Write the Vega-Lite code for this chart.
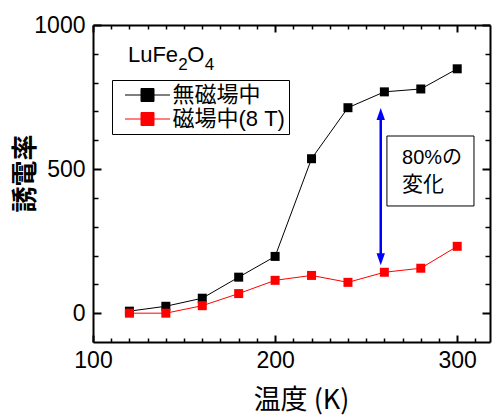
{
  "$schema": "https://vega.github.io/schema/vega-lite/v6.json",
  "width": 397,
  "height": 317,
  "autosize": {"type": "none"},
  "padding": {"left": 93, "top": 25, "right": 3, "bottom": 73},
  "config": {
    "view": {"stroke": null},
    "font": "Liberation Sans",
    "axis": {"labelFont": "Liberation Sans", "labelColor": "black", "tickColor": "black", "domainColor": "black", "grid": false, "labelFlush": false, "labelOverlap": false, "format": "d"},
    "legend": {"orient": "none", "legendX": 19, "legendY": 55, "strokeColor": "black", "fillColor": "white", "padding": 4, "symbolType": "M-3.46,0H3.46M-1,-1H1V1H-1Z", "symbolSize": 169, "symbolOffset": 20.5, "labelOffset": 14, "labelFontSize": 22, "labelFont": "Liberation Sans, Noto Sans CJK JP", "labelColor": "black", "rowPadding": 2, "symbolStrokeWidth": 1}
  },
  "data": {
    "values": [
      {"T": 120, "eps": 7, "s": "無磁場中"},
      {"T": 140, "eps": 24, "s": "無磁場中"},
      {"T": 160, "eps": 52, "s": "無磁場中"},
      {"T": 180, "eps": 125, "s": "無磁場中"},
      {"T": 200, "eps": 197, "s": "無磁場中"},
      {"T": 220, "eps": 536, "s": "無磁場中"},
      {"T": 240, "eps": 713, "s": "無磁場中"},
      {"T": 260, "eps": 768, "s": "無磁場中"},
      {"T": 280, "eps": 778, "s": "無磁場中"},
      {"T": 300, "eps": 848, "s": "無磁場中"},
      {"T": 120, "eps": 0, "s": "磁場中(8 T)"},
      {"T": 140, "eps": 0, "s": "磁場中(8 T)"},
      {"T": 160, "eps": 26, "s": "磁場中(8 T)"},
      {"T": 180, "eps": 68, "s": "磁場中(8 T)"},
      {"T": 200, "eps": 114, "s": "磁場中(8 T)"},
      {"T": 220, "eps": 131, "s": "磁場中(8 T)"},
      {"T": 240, "eps": 107, "s": "磁場中(8 T)"},
      {"T": 260, "eps": 142, "s": "磁場中(8 T)"},
      {"T": 280, "eps": 156, "s": "磁場中(8 T)"},
      {"T": 300, "eps": 232, "s": "磁場中(8 T)"}
    ]
  },
  "layer": [
    {
      "data": {"values": [{}]},
      "mark": {"type": "rect", "fill": "white", "stroke": "black", "strokeWidth": 1},
      "encoding": {
        "x": {"datum": 261.4, "type": "quantitative", "axis": null, "scale": {"domain": [100, 318], "nice": false, "zero": false}},
        "x2": {"datum": 309.2},
        "y": {"datum": 614.8, "type": "quantitative", "axis": null, "scale": {"domain": [-100, 1000], "nice": false, "zero": false}},
        "y2": {"datum": 372}
      }
    },
    {
      "data": {"values": [{}]},
      "mark": {"type": "text", "text": "80%の", "align": "left", "baseline": "middle", "fontSize": 20, "font": "Liberation Sans, Noto Sans CJK JP", "color": "black"},
      "encoding": {
        "x": {"datum": 269.7, "type": "quantitative", "axis": null},
        "y": {"datum": 537, "type": "quantitative", "axis": null}
      }
    },
    {
      "data": {"values": [{}]},
      "mark": {"type": "text", "text": "変化", "align": "left", "baseline": "middle", "fontSize": 21, "font": "Noto Sans CJK JP", "color": "black"},
      "encoding": {
        "x": {"datum": 269.7, "type": "quantitative", "axis": null},
        "y": {"datum": 445, "type": "quantitative", "axis": null}
      }
    },
    {
      "data": {"values": [{}]},
      "mark": {"type": "rule", "color": "#0000ff", "strokeWidth": 2.5},
      "encoding": {
        "x": {"datum": 258, "type": "quantitative", "axis": null},
        "y": {"datum": 190, "type": "quantitative", "axis": null},
        "y2": {"datum": 690}
      }
    },
    {
      "data": {"values": [{}]},
      "mark": {"type": "point", "shape": "M0,-1L-0.7,1L0.7,1Z", "size": 144, "filled": true, "color": "#0000ff", "opacity": 1},
      "encoding": {
        "x": {"datum": 258, "type": "quantitative", "axis": null},
        "y": {"datum": 691, "type": "quantitative", "axis": null}
      }
    },
    {
      "data": {"values": [{}]},
      "mark": {"type": "point", "shape": "M0,1L-0.7,-1L0.7,-1Z", "size": 144, "filled": true, "color": "#0000ff", "opacity": 1},
      "encoding": {
        "x": {"datum": 258, "type": "quantitative", "axis": null},
        "y": {"datum": 187.5, "type": "quantitative", "axis": null}
      }
    },
    {
      "data": {"values": [{}]},
      "mark": {"type": "text", "text": "LuFe", "align": "left", "baseline": "alphabetic", "fontSize": 22, "color": "black"},
      "encoding": {
        "x": {"datum": 119.2, "type": "quantitative", "axis": null},
        "y": {"datum": 871.6, "type": "quantitative", "axis": null}
      }
    },
    {
      "data": {"values": [{}]},
      "mark": {"type": "text", "text": "2", "align": "left", "baseline": "alphabetic", "fontSize": 17, "color": "black"},
      "encoding": {
        "x": {"datum": 146.8, "type": "quantitative", "axis": null},
        "y": {"datum": 844, "type": "quantitative", "axis": null}
      }
    },
    {
      "data": {"values": [{}]},
      "mark": {"type": "text", "text": "O", "align": "left", "baseline": "alphabetic", "fontSize": 22, "color": "black"},
      "encoding": {
        "x": {"datum": 151.8, "type": "quantitative", "axis": null},
        "y": {"datum": 871.6, "type": "quantitative", "axis": null}
      }
    },
    {
      "data": {"values": [{}]},
      "mark": {"type": "text", "text": "4", "align": "left", "baseline": "alphabetic", "fontSize": 17, "color": "black"},
      "encoding": {
        "x": {"datum": 161.3, "type": "quantitative", "axis": null},
        "y": {"datum": 844, "type": "quantitative", "axis": null}
      }
    },
    {
      "mark": {"type": "line", "strokeWidth": 1},
      "encoding": {
        "x": {"field": "T", "type": "quantitative", "scale": {"domain": [100, 318], "nice": false, "zero": false},
          "axis": {"orient": "bottom", "values": [100, 200, 300], "tickSize": -7, "tickWidth": 2, "domain": true, "domainWidth": 2, "labelFontSize": 23, "labelPadding": 14, "title": "温度 (K)", "titleFont": "Noto Sans CJK JP", "titleFontSize": 27, "titleFontWeight": "normal", "titleColor": "black", "titleX": 208, "titleY": 58, "titleBaseline": "middle", "titleAlign": "center"}},
        "y": {"field": "eps", "type": "quantitative", "scale": {"domain": [-100, 1000], "nice": false, "zero": false},
          "axis": {"orient": "left", "values": [0, 500, 1000], "tickSize": -8, "tickWidth": 2, "domain": true, "domainWidth": 2, "labelFontSize": 23, "labelPadding": 16, "title": "誘電率", "titleFont": "Noto Sans CJK JP", "titleFontSize": 26, "titleFontWeight": "bold", "titleColor": "black", "titleAngle": 270, "titleX": -68, "titleY": 148, "titleBaseline": "middle", "titleAlign": "center"}},
        "stroke": {"field": "s", "type": "nominal", "scale": {"domain": ["無磁場中", "磁場中(8 T)"], "range": ["#000000", "#ff0000"]}, "legend": {"title": null}}
      }
    },
    {
      "mark": {"type": "point", "shape": "square", "filled": true, "size": 81, "opacity": 1},
      "encoding": {
        "x": {"field": "T", "type": "quantitative",
          "axis": {"orient": "bottom", "values": [110, 120, 130, 140, 150, 160, 170, 180, 190, 210, 220, 230, 240, 250, 260, 270, 280, 290, 310], "tickSize": -4, "tickWidth": 1.5, "domain": false, "labels": false, "title": null}},
        "y": {"field": "eps", "type": "quantitative",
          "axis": {"orient": "left", "values": [100, 200, 300, 400, 600, 700, 800, 900], "tickSize": -5, "tickWidth": 1.5, "domain": false, "labels": false, "title": null}},
        "fill": {"field": "s", "type": "nominal", "scale": {"domain": ["無磁場中", "磁場中(8 T)"], "range": ["#000000", "#ff0000"]}, "legend": {"title": null}}
      }
    },
    {
      "mark": {"type": "point", "opacity": 0},
      "encoding": {
        "x": {"field": "T", "type": "quantitative",
          "axis": {"orient": "top", "values": [100, 200, 300], "tickSize": -7, "tickWidth": 2, "domain": true, "domainWidth": 2, "labels": false, "title": null}},
        "y": {"field": "eps", "type": "quantitative",
          "axis": {"orient": "right", "values": [0, 500, 1000], "tickSize": -8, "tickWidth": 2, "domain": true, "domainWidth": 2, "labels": false, "title": null}}
      }
    },
    {
      "mark": {"type": "point", "opacity": 0},
      "encoding": {
        "x": {"field": "T", "type": "quantitative",
          "axis": {"orient": "top", "values": [110, 120, 130, 140, 150, 160, 170, 180, 190, 210, 220, 230, 240, 250, 260, 270, 280, 290, 310], "tickSize": -4, "tickWidth": 1.5, "domain": false, "labels": false, "title": null}},
        "y": {"field": "eps", "type": "quantitative",
          "axis": {"orient": "right", "values": [100, 200, 300, 400, 600, 700, 800, 900], "tickSize": -5, "tickWidth": 1.5, "domain": false, "labels": false, "title": null}}
      }
    }
  ],
  "resolve": {"axis": {"x": "independent", "y": "independent"}}
}
